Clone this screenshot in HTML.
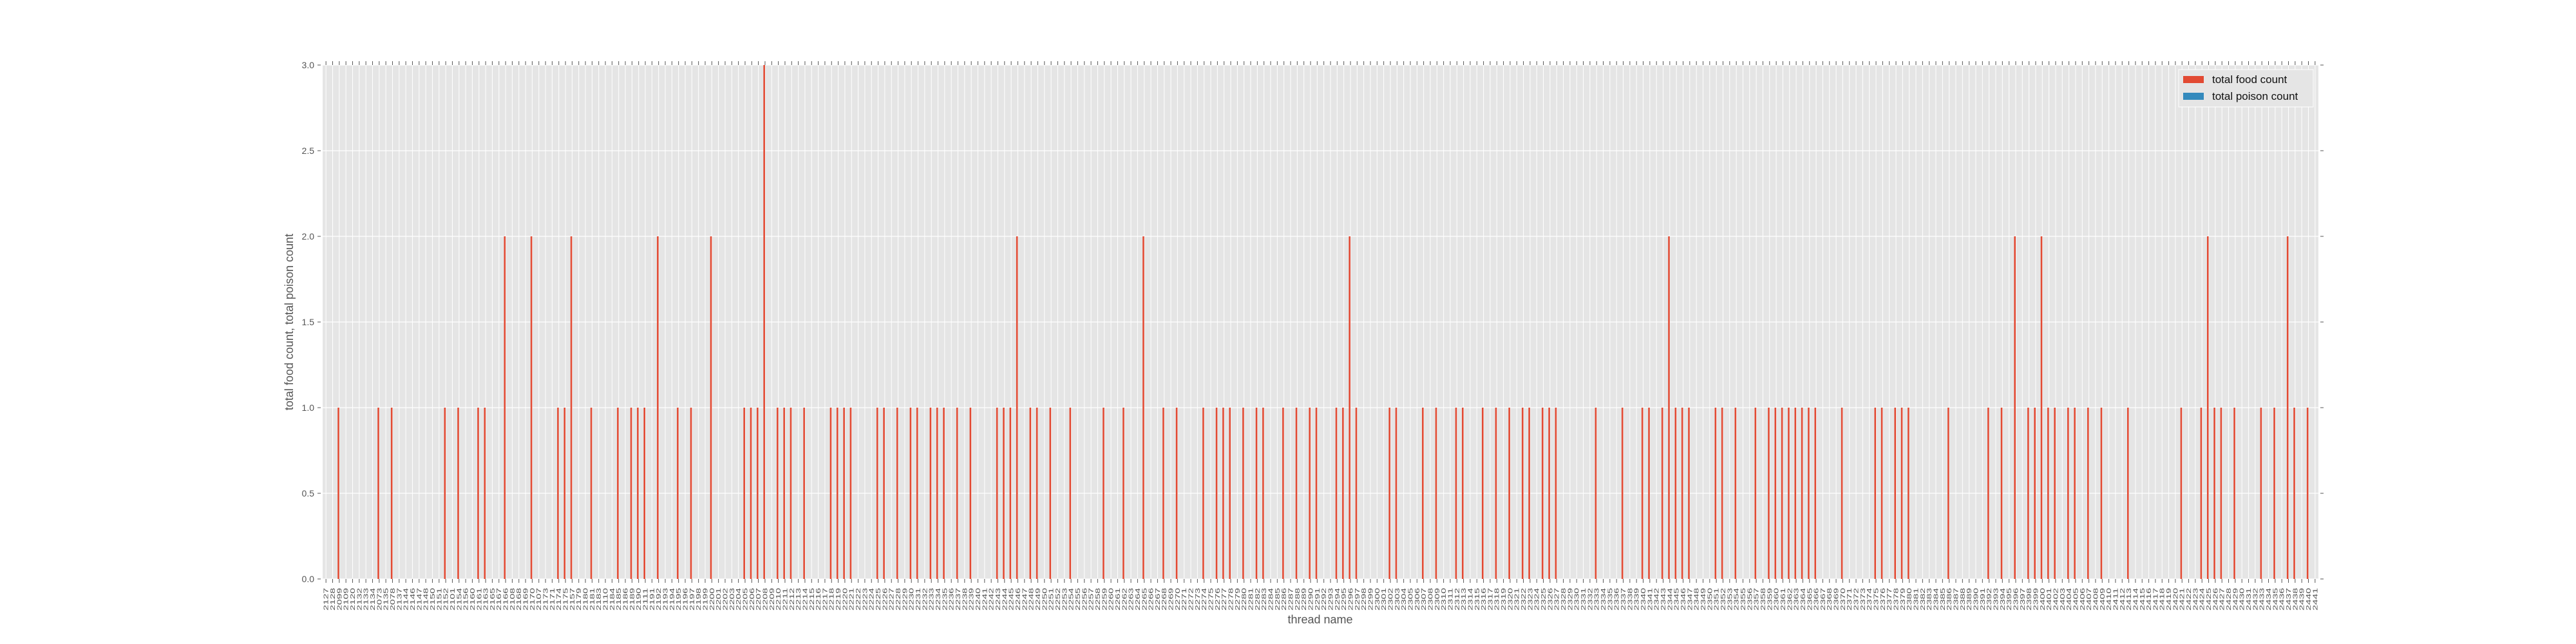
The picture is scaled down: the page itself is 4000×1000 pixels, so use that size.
<!DOCTYPE html>
<html><head><meta charset="utf-8"><style>
html,body{margin:0;padding:0;background:#fff;}
svg{display:block;font-family:"Liberation Sans","DejaVu Sans",sans-serif;}
</style></head><body>
<svg id="chart" width="4000" height="1000" viewBox="0 0 4000 1000" xmlns="http://www.w3.org/2000/svg">
<rect x="501" y="101" width="3099" height="798" fill="#e5e5e5"/>
<g id="grid"></g>
<g id="bars"></g>
<g id="axes"></g>
<text x="0" y="0" transform="translate(455,500) rotate(-90)" text-anchor="middle" font-size="18" fill="#555">total food count, total poison count</text>
<text x="2050" y="968" text-anchor="middle" font-size="18" fill="#555">thread name</text>
<g>
<rect x="3383" y="108" width="209" height="58" fill="#e5e5e5" stroke="#fff" stroke-width="1"/>
<rect x="3390" y="118" width="32" height="11" fill="#e24a33"/>
<text x="3435" y="129" font-size="17" fill="#111">total food count</text>
<rect x="3390" y="144" width="32" height="11" fill="#348abd"/>
<text x="3435" y="155" font-size="17" fill="#111">total poison count</text>
</g>
</svg>
<script>
const categories = [
"2127","2128","2099","2109","2120","2132","2133","2134","2073","2135",
"2078","2137","2144","2146","2147","2148","2150","2151","2152","2101",
"2154","2156","2160","2161","2163","2165","2167","2166","2108","2168",
"2169","2170","2107","2173","2171","2174","2175","2157","2179","2180",
"2181","2183","2110","2184","2185","2186","2189","2190","2111","2191",
"2192","2193","2194","2195","2196","2197","2198","2199","2200","2201",
"2202","2203","2204","2205","2206","2207","2208","2209","2210","2211",
"2212","2213","2214","2215","2216","2217","2218","2219","2220","2221",
"2222","2223","2224","2225","2226","2227","2228","2229","2230","2231",
"2232","2233","2234","2235","2236","2237","2238","2239","2240","2241",
"2242","2243","2244","2245","2246","2247","2248","2249","2250","2251",
"2252","2253","2254","2255","2256","2257","2258","2259","2260","2261",
"2262","2263","2264","2265","2266","2267","2268","2269","2270","2271",
"2272","2273","2274","2275","2276","2277","2278","2279","2280","2281",
"2282","2283","2284","2285","2286","2287","2288","2289","2290","2291",
"2292","2293","2294","2295","2296","2297","2298","2299","2300","2301",
"2302","2303","2304","2305","2306","2307","2308","2309","2310","2311",
"2312","2313","2314","2315","2316","2317","2318","2319","2320","2321",
"2322","2323","2324","2325","2326","2327","2328","2329","2330","2331",
"2332","2333","2334","2335","2336","2337","2338","2339","2340","2341",
"2342","2343","2344","2345","2346","2347","2348","2349","2350","2351",
"2352","2353","2354","2355","2356","2357","2358","2359","2360","2361",
"2362","2363","2364","2365","2366","2367","2368","2369","2370","2371",
"2372","2373","2374","2375","2376","2377","2378","2379","2380","2381",
"2382","2383","2384","2385","2386","2387","2388","2389","2390","2391",
"2392","2393","2394","2395","2396","2397","2398","2399","2400","2401",
"2402","2403","2404","2405","2406","2407","2408","2409","2410","2411",
"2412","2413","2414","2415","2416","2417","2418","2419","2420","2421",
"2422","2423","2424","2425","2426","2427","2428","2429","2430","2431",
"2432","2433","2434","2435","2436","2437","2438","2439","2440","2441"
];
const foodIdx = [
2,8,10,18,20,23,24,27,31,35,
36,37,40,44,46,47,48,50,53,55,
58,63,64,65,66,68,69,70,72,76,
77,78,79,83,84,86,88,89,91,92,
93,95,97,101,102,103,104,106,107,109,
112,117,120,123,126,128,132,134,135,136,
138,140,141,144,146,148,149,152,153,154,
155,160,161,165,167,170,171,174,176,178,
180,181,183,184,185,191,195,198,199,201,
202,203,204,205,209,210,212,215,217,218,
219,220,221,222,223,224,228,233,234,236,
237,238,244,250,252,254,256,257,258,259,
260,262,263,265,267,271,279,282,283,284,
285,287,291,293,295,296,298];
const foodVal = [
1,1,1,1,1,1,1,2,2,1,
1,2,1,1,1,1,1,2,1,1,
2,1,1,1,3,1,1,1,1,1,
1,1,1,1,1,1,1,1,1,1,
1,1,1,1,1,1,2,1,1,1,
1,1,1,2,1,1,1,1,1,1,
1,1,1,1,1,1,1,1,1,2,
1,1,1,1,1,1,1,1,1,1,
1,1,1,1,1,1,1,1,1,1,
2,1,1,1,1,1,1,1,1,1,
1,1,1,1,1,1,1,1,1,1,
1,1,1,1,1,2,1,1,2,1,
1,1,1,1,1,1,1,1,2,1,
1,1,1,1,2,1,1];
const poisonVal = categories.map(()=>0);
const yTicks = [0,0.5,1,1.5,2,2.5,3];
const yTickLabels = ["0.0","0.5","1.0","1.5","2.0","2.5","3.0"];

const NS="http://www.w3.org/2000/svg";
const L=501,R=3600,T=101,B=899,N=categories.length,step=(R-L)/N;
const xs=i=>L+step*(i+0.5);
const ys=v=>B-(v/3)*(B-T);
function mk(tag,attrs,parent,txt){const e=document.createElementNS(NS,tag);for(const k in attrs)e.setAttribute(k,attrs[k]);if(txt!==undefined)e.textContent=txt;parent.appendChild(e);return e;}
const grid=document.getElementById('grid'),bars=document.getElementById('bars'),axes=document.getElementById('axes');
const food=categories.map(()=>0);
foodIdx.forEach((i,k)=>{food[i]=foodVal[k];});
for(let i=0;i<N;i++){
  const x=xs(i);
  const g=mk('line',{x1:x,x2:x,y1:T,y2:B,stroke:'#fff','stroke-width':1},grid);
  
  
  const t1=mk('line',{x1:x,x2:x,y1:B,y2:B+6,stroke:'#555','stroke-width':1},axes);
  
  
  const t2=mk('line',{x1:x,x2:x,y1:T,y2:T-6,stroke:'#555','stroke-width':1},axes);
  
  
  const lb=mk('text',{transform:`translate(${x+3.5},${948}) rotate(-90)`,'font-size':10,fill:'#555',textLength:35,lengthAdjust:'spacingAndGlyphs'},axes,categories[i]);
  
  
}
yTicks.forEach((v,k)=>{
  const y=ys(v);
  const g=mk('line',{x1:L,x2:R,y1:y,y2:y,stroke:'#fff','stroke-width':1.2},grid);
  
  
  const t=mk('line',{x1:L-8,x2:L-3,y1:y,y2:y,stroke:'#555','stroke-width':1},axes);
  
  
  const t2=mk('line',{x1:R+3,x2:R+8,y1:y,y2:y,stroke:'#555','stroke-width':1},axes);
  
  
  const lb=mk('text',{x:L-13,y:y+5,'text-anchor':'end','font-size':14,fill:'#555'},axes,yTickLabels[k]);
  
  
});
const bw=step*0.25;
for(let i=0;i<N;i++){
  if(food[i]>0){
    const r=mk('rect',{x:xs(i)-bw,y:ys(food[i]),width:bw,height:B-ys(food[i]),fill:'#e24a33'},bars);
    
    
  }
  if(poisonVal[i]>0){
    const r=mk('rect',{x:xs(i),y:ys(poisonVal[i]),width:bw,height:B-ys(poisonVal[i]),fill:'#348abd'},bars);
    
    
  }
}
</script>
</body></html>
